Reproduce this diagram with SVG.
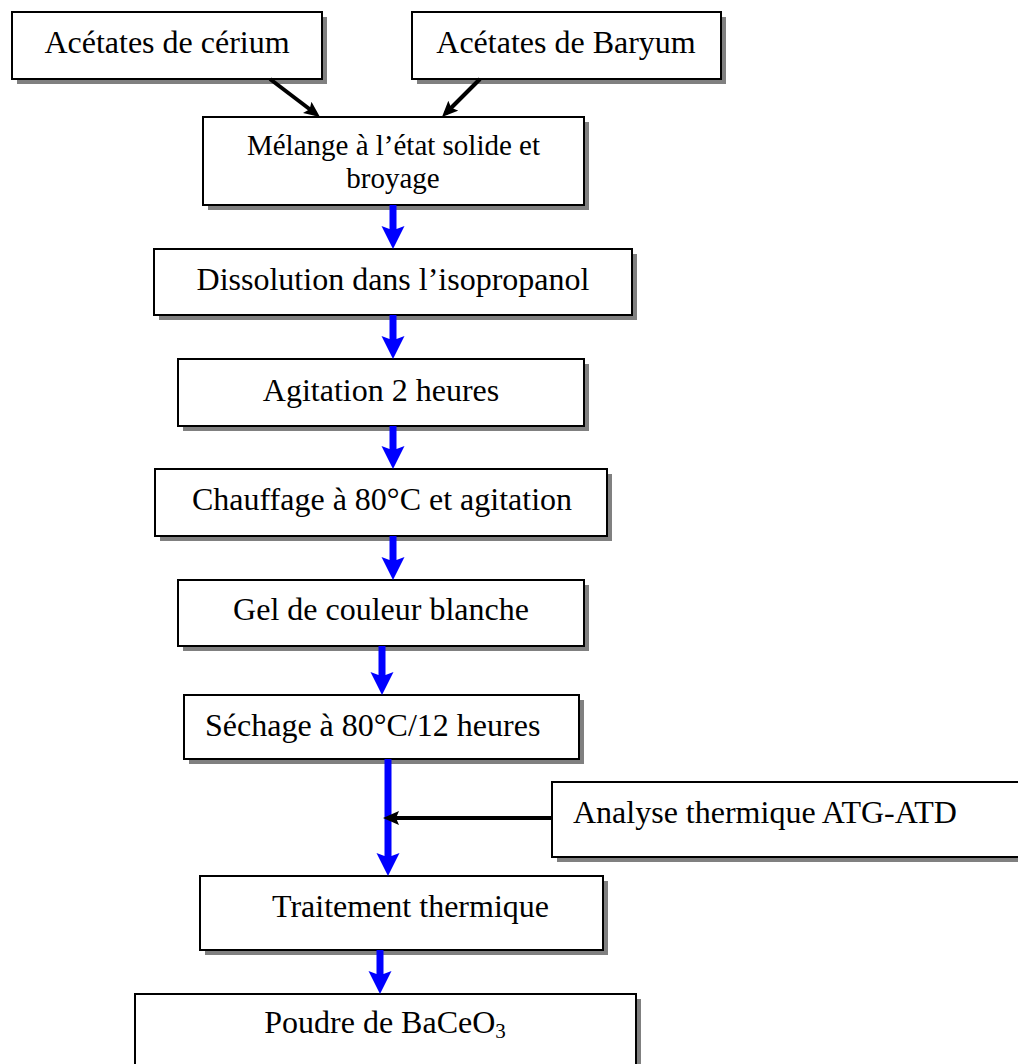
<svg xmlns="http://www.w3.org/2000/svg" width="1018" height="1064" viewBox="0 0 1018 1064">
<style>
.sh{fill:#808080}
.bx{fill:#fff;stroke:#000;stroke-width:2}
.t{font-family:"Liberation Serif","Times New Roman",serif;font-size:32px;fill:#000}
.ts{font-family:"Liberation Serif","Times New Roman",serif;font-size:29px;fill:#000}
.c{text-anchor:middle}
.blue{fill:#0000ff}
.blk{stroke:#000;stroke-width:4;fill:none}
</style>
<defs>
<marker id="ah" markerUnits="userSpaceOnUse" markerWidth="18" markerHeight="16" refX="11" refY="7" orient="auto" viewBox="0 0 18 16">
<path d="M0,0 L16,7 L0,14 L3,7 Z" fill="#000"/>
</marker>
</defs>
<rect width="1018" height="1064" fill="#fff"/>
<g id="n-cerium"><rect class="sh" x="17" y="17" width="310" height="67"/><rect class="bx" x="12" y="12" width="310" height="67"/><text class="t c" x="167" y="53">Acétates de cérium</text></g>
<g id="n-baryum"><rect class="sh" x="417" y="17" width="309" height="67"/><rect class="bx" x="412" y="12" width="309" height="67"/><text class="t c" x="566" y="53">Acétates de Baryum</text></g>
<g id="n-melange"><rect class="sh" x="208" y="122" width="381" height="88"/><rect class="bx" x="203" y="117" width="381" height="88"/><text class="ts c" x="393.5" y="155">Mélange à l’état solide et</text><text class="ts c" x="393" y="188">broyage</text></g>
<g id="n-dissolution"><rect class="sh" x="159" y="254" width="478" height="66"/><rect class="bx" x="154" y="249" width="478" height="66"/><text class="t c" x="393" y="290">Dissolution dans l’isopropanol</text></g>
<g id="n-agitation"><rect class="sh" x="183" y="364" width="406" height="67"/><rect class="bx" x="178" y="359" width="406" height="67"/><text class="t c" x="381" y="401">Agitation 2 heures</text></g>
<g id="n-chauffage"><rect class="sh" x="160" y="474" width="452" height="67"/><rect class="bx" x="155" y="469" width="452" height="67"/><text class="t c" x="382" y="510">Chauffage à 80°C et agitation</text></g>
<g id="n-gel"><rect class="sh" x="183" y="585" width="406" height="66"/><rect class="bx" x="178" y="580" width="406" height="66"/><text class="t c" x="381" y="620">Gel de couleur blanche</text></g>
<g id="n-sechage"><rect class="sh" x="189" y="700" width="395" height="64"/><rect class="bx" x="184" y="695" width="395" height="64"/><text class="t" x="205" y="736">Séchage à 80°C/12 heures</text></g>
<g id="n-analyse"><rect class="sh" x="557" y="787" width="500" height="75"/><rect class="bx" x="552" y="782" width="500" height="75"/><text class="t" x="573" y="823">Analyse thermique ATG-ATD</text></g>
<g id="n-traitement"><rect class="sh" x="205" y="881" width="403" height="74"/><rect class="bx" x="200" y="876" width="403" height="74"/><text class="t" x="272" y="917">Traitement thermique</text></g>
<g id="n-poudre"><rect class="sh" x="140" y="999" width="501" height="100"/><rect class="bx" x="135" y="994" width="501" height="100"/><text class="t c" x="385" y="1033">Poudre de BaCeO<tspan font-size="21" dy="5">3</tspan></text></g>
<g id="connectors">
<line class="blk" x1="270" y1="79" x2="316" y2="114" marker-end="url(#ah)"/>
<line class="blk" x1="480" y1="79" x2="445.5" y2="113.5" marker-end="url(#ah)"/>
<path class="blue" d="M389.5,205 L396.5,205 L396.5,229 L404.5,226 L393,249 L381.5,226 L389.5,229 Z"/>
<path class="blue" d="M389.5,315 L396.5,315 L396.5,339 L404.5,336 L393,359 L381.5,336 L389.5,339 Z"/>
<path class="blue" d="M389.5,426 L396.5,426 L396.5,449 L404.5,446 L393,469 L381.5,446 L389.5,449 Z"/>
<path class="blue" d="M389.5,536 L396.5,536 L396.5,560 L404.5,557 L393,580 L381.5,557 L389.5,560 Z"/>
<path class="blue" d="M378.5,646 L385.5,646 L385.5,675 L393.5,672 L382,695 L370.5,672 L378.5,675 Z"/>
<path class="blue" d="M384.5,759 L391.5,759 L391.5,856 L399.5,853 L388,876 L376.5,853 L384.5,856 Z"/>
<path class="blue" d="M376.5,950 L383.5,950 L383.5,974 L391.5,971 L380,994 L368.5,971 L376.5,974 Z"/>
<line class="blk" x1="552" y1="818" x2="388" y2="818" marker-end="url(#ah)"/>
</g>
</svg>
